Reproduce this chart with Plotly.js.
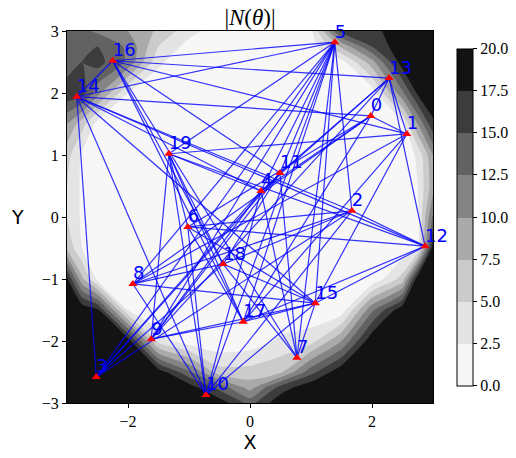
<!DOCTYPE html>
<html>
<head>
<meta charset="utf-8">
<script src="https://cdn.plot.ly/plotly-3.0.1.min.js"></script>
<style>html,body{margin:0;padding:0;background:#fff;}#chart{width:516px;height:458px;}</style>
</head>
<body>
<div id="chart"></div>
<script>
// Node positions
const nodeIds = [0,1,2,3,4,5,6,7,8,9,10,11,12,13,14,15,16,17,18,19];
const nodeX = [1.98, 2.57, 1.67, -2.52, 0.18, 1.39, -1.02, 0.77, -1.92, -1.62, -0.72, 0.49, 2.87, 2.28, -2.84, 1.07, -2.25, -0.11, -0.44, -1.33];
const nodeY = [1.63, 1.34, 0.10, -2.58, 0.42, 2.82, -0.16, -2.27, -1.08, -1.97, -2.87, 0.71, -0.47, 2.24, 1.94, -1.39, 2.52, -1.69, -0.76, 1.02];

// Edges (source, target)
const edgeSrc = [16,16,16,16,16,16,16,16,14,14,14,14,14,14,14,14,5,5,5,5,5,5,5,5,5,5,5,13,13,13,13,13,0,0,0,0,0,13,1,1,1,1,12,12,12,12,12,2,2,2,2,2,19,19,19,19,19,19,4,4,4,4,11,11,11,8,8,8,6,6,6,18,17,17,15,15,10,3,3,18];
const edgeDst = [14,5,13,1,18,17,7,11,5,0,3,4,2,12,10,15,19,8,3,10,17,4,11,7,15,2,9,1,4,11,0,9,1,4,8,17,6,12,19,17,8,15,2,6,17,15,19,6,3,18,10,8,4,6,17,18,10,9,3,9,10,7,9,7,18,10,15,18,17,10,15,7,9,15,7,9,15,18,11,15];

// Background |N(theta)| grid (rows bottom -> top)
const gridX = [-3,-2.75,-2.5,-2,-1.5,-1,-0.5,0,0.5,1,1.5,2,2.5,2.75,3];
const gridY = [-3,-2.75,-2.5,-2,-1.5,-1,-0.5,0,0.5,1,1.5,2,2.5,2.75,3];
const gridZ = [
  [19.5,19.5,19.5,19.5,19.5,19.5,19,14,19.5,19.5,19.5,19.5,19.5,19.5,19.5],
  [19.5,19.5,19.5,19.5,19.5,19,14,9,16,19.5,19.5,19.5,19.5,19.5,19.5],
  [19.5,19.5,19.5,19.5,19,13,6,6,7,14,19.5,19.5,19.5,19.5,19.5],
  [19.5,19.5,19.5,19,4,1,0.5,1,3,4,10,19.5,19.5,19.5,19.5],
  [19.5,19.5,18,2.5,0.5,0.5,0.5,0.5,0.5,0.5,1,12,19.5,19.5,19.5],
  [18,8,2,0.5,0.5,0.5,0.5,0.5,0.5,0.5,0.5,0.5,6,19.5,19.5],
  [7,2.5,0.5,0.5,0.5,0.5,0.5,0.5,0.5,0.5,0.5,0.5,0.5,2,19],
  [5,2,0.5,0.5,0.5,0.5,0.5,0.5,0.5,0.5,0.5,0.5,0.5,2,13],
  [5,2,0.5,0.5,0.5,0.5,0.5,0.5,0.5,0.5,0.5,0.5,0.5,2.5,9],
  [6,2,0.5,0.5,0.5,0.5,0.5,0.5,0.5,0.5,0.5,0.5,0.5,3,10],
  [10,6,1.5,0.5,0.5,0.5,0.5,0.5,0.5,0.5,0.5,0.5,2,10,17],
  [17,16,11,2.5,0.5,0.5,0.5,0.5,0.5,0.5,0.5,1,12,18,19.5],
  [13,15,16,12,3,0.5,0.5,0.5,0.5,0.5,1.5,9,19,19.5,19.5],
  [13,14,15,12,5,1.5,0.5,0.5,0.5,1,8,15,19.5,19.5,19.5],
  [13,13,12,10,7,3.5,1,0.5,0.5,2,16,16.5,19.5,19.5,19.5]
];

const levelColors = ['#f7f7f7','#e4e4e4','#cbcbcb','#aaaaaa','#848484','#626262','#3c3c3c','#131313'];
const colorTicks = [0,2.5,5,7.5,10,12.5,15,17.5,20];

const cscale = [];
levelColors.forEach((c,i)=>{ cscale.push([i/8,c]); cscale.push([(i+1)/8,c]); });

const ex = [], ey = [];
for (let k = 0; k < edgeSrc.length; k++) {
  ex.push(nodeX[edgeSrc[k]], nodeX[edgeDst[k]], null);
  ey.push(nodeY[edgeSrc[k]], nodeY[edgeDst[k]], null);
}

const serif = 'Liberation Serif, DejaVu Serif, serif';

const traces = [
  {
    type: 'contour', x: gridX, y: gridY, z: gridZ,
    zmin: 0, zmax: 20, autocontour: false,
    contours: {start: 0, end: 20, size: 2.5, coloring: 'fill', showlines: false},
    line: {width: 0, smoothing: 0.6},
    colorscale: cscale,
    colorbar: {
      x: 1.0656, xanchor: 'left', y: 0.5, yanchor: 'middle', len: 0.905,
      thickness: 16, outlinewidth: 1, outlinecolor: '#000',
      tickvals: colorTicks, ticktext: colorTicks.map(v => v.toFixed(1)),
      ticks: 'outside', ticklen: 4, tickcolor: '#000',
      tickfont: {family: serif, size: 16, color: '#000'}, xpad: 0, ypad: 0
    },
    hoverinfo: 'skip'
  },
  {
    type: 'scatter', mode: 'lines', x: ex, y: ey,
    line: {color: 'rgba(0,0,255,0.8)', width: 1.2}, hoverinfo: 'skip', showlegend: false
  },
  {
    type: 'scatter', mode: 'markers', x: nodeX, y: nodeY,
    marker: {symbol: 'triangle-up', size: 8, color: '#ff0000'},
    showlegend: false, cliponaxis: false, hoverinfo: 'skip'
  },
  {
    type: 'scatter', mode: 'text', x: nodeX, y: nodeY,
    text: nodeIds.map(String), textposition: 'top right',
    textfont: {family: 'DejaVu Sans, sans-serif', size: 18, color: '#0000ff'},
    showlegend: false, cliponaxis: false, hoverinfo: 'skip'
  }
];

const layout = {
  width: 516, height: 458,
  margin: {l: 67, r: 83, t: 31, b: 55, autoexpand: false},
  paper_bgcolor: '#fff', plot_bgcolor: '#fff',
  showlegend: false,
  title: {text: '|<i>N</i>(<i>θ</i>)|', x: 0.5, xref: 'paper', y: 0.962, yref: 'container', yanchor: 'middle',
          font: {family: serif, size: 23, color: '#000'}},
  xaxis: {
    range: [-3, 3], tickvals: [-2, 0, 2], ticks: 'outside', ticklen: 4, tickcolor: '#000',
    showline: true, linecolor: '#000', linewidth: 1, mirror: true, showgrid: false, zeroline: false,
    tickfont: {family: serif, size: 16, color: '#000'},
    title: {text: 'X', font: {family: 'DejaVu Sans, sans-serif', size: 19, color: '#000'}, standoff: 6}
  },
  yaxis: {
    range: [-3, 3], tickvals: [-3, -2, -1, 0, 1, 2, 3], ticks: 'outside', ticklen: 4, tickcolor: '#000',
    showline: true, linecolor: '#000', linewidth: 1, mirror: true, showgrid: false, zeroline: false,
    tickfont: {family: serif, size: 16, color: '#000'}
  },
  annotations: [
    {text: 'Y', xref: 'paper', yref: 'paper', x: -0.135, y: 0.5, xanchor: 'center', yanchor: 'middle',
     showarrow: false, font: {family: 'DejaVu Sans, sans-serif', size: 19, color: '#000'}}
  ]
};

Plotly.newPlot('chart', traces, layout, {displayModeBar: false, staticPlot: true});
</script>
</body>
</html>
